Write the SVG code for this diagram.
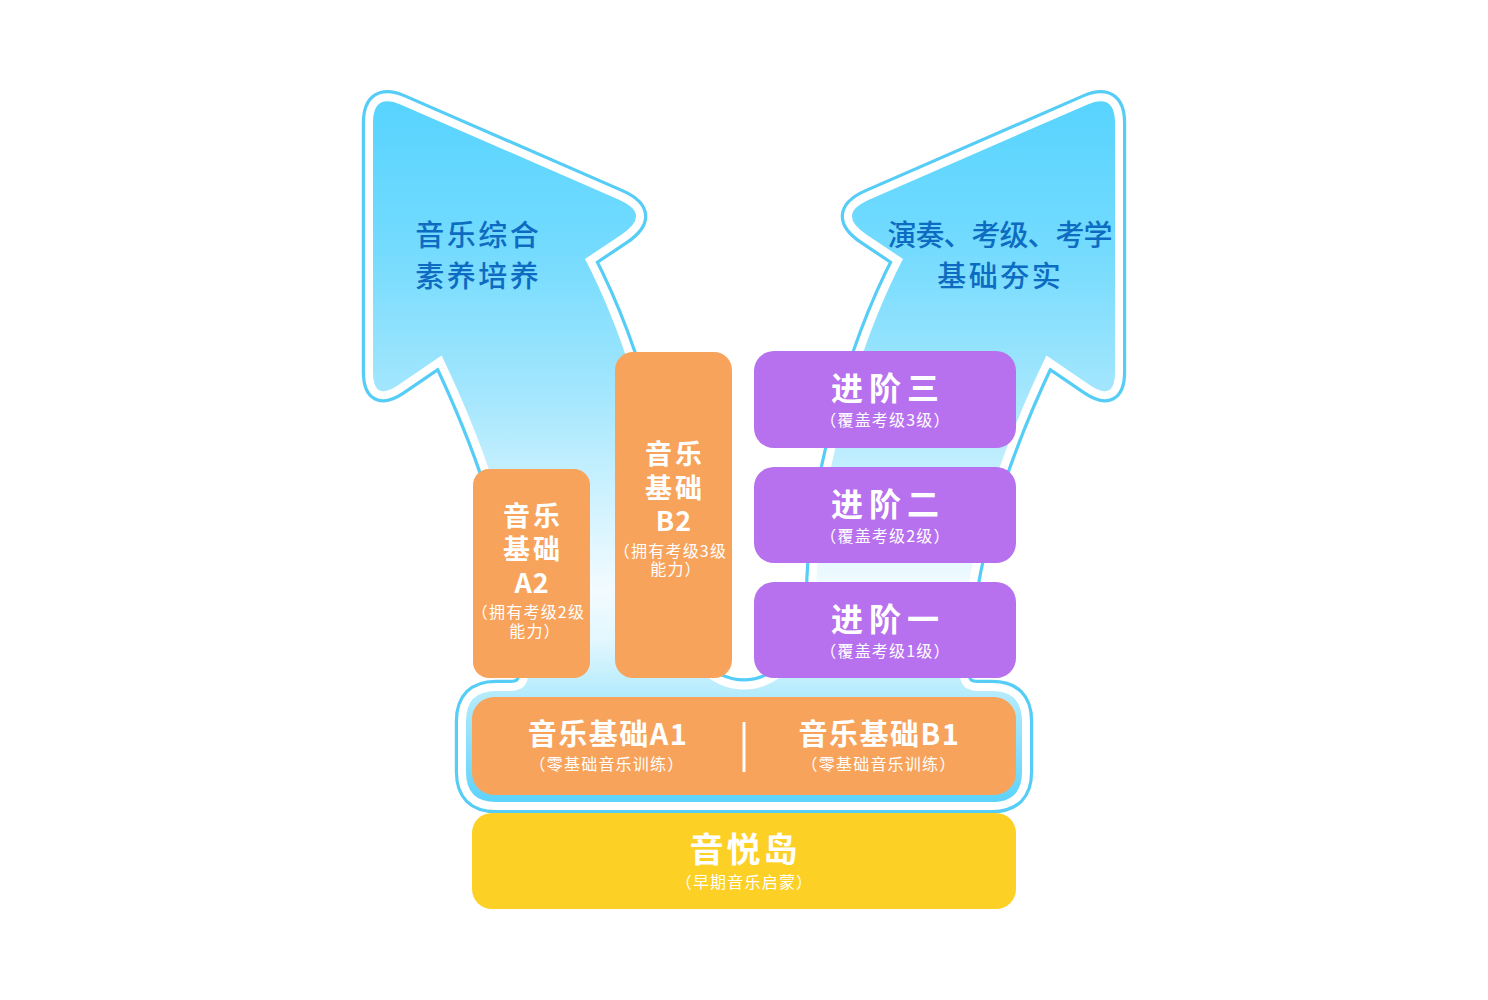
<svg xmlns="http://www.w3.org/2000/svg" width="1488" height="1000" viewBox="0 0 1488 1000">
<defs>
<linearGradient id="skyGrad" gradientUnits="userSpaceOnUse" x1="0" y1="90" x2="0" y2="805">
<stop offset="0" stop-color="#55d3fe"/>
<stop offset="0.224" stop-color="#74dbfe"/>
<stop offset="0.434" stop-color="#a6e7fd"/>
<stop offset="0.531" stop-color="#c3effe"/>
<stop offset="0.699" stop-color="#f2fbff"/>
<stop offset="0.769" stop-color="#e2f7fe"/>
<stop offset="0.853" stop-color="#b0eafc"/>
<stop offset="1" stop-color="#5ad2fb"/>
</linearGradient>
<path id="yshape" d="M 373 123 Q 373 92.5 401 104.7 L 618.5 199.4 Q 652 214 621.7 234.4 L 585 259 C 632 349 672 490 672 600 C 672 650 705 689.5 744 689.5 C 783 689.5 816 650 816 600 C 816 490 856 349 903 259 L 866.3 234.4 Q 836 214 869.5 199.4 L 1087 104.7 Q 1115 92.5 1115 123 L 1115 371.9 Q 1115 402 1090 385.2 L 1046.4 355.4 C 1018 415 962 540 960 672 Q 959 691 978 691 L 992 691 Q 1022 691 1022 721 L 1022 772 Q 1022 802 992 802 L 496 802 Q 466 802 466 772 L 466 721 Q 466 691 496 691 L 510 691 Q 529 691 528 672 C 526 540 470 415 441.6 355.4 L 398 385.2 Q 373 402 373 371.9 Z"/>
</defs>
<style>
.w{fill:#fff;font-family:"Noto Sans CJK SC","Noto Sans",sans-serif;text-anchor:middle}
.big{font-size:27px;font-weight:700;letter-spacing:3px}
.lat{letter-spacing:1px}
.sub{font-size:16px;font-weight:400;letter-spacing:1.2px;font-feature-settings:"halt"}
.pt{font-size:32px;font-weight:700;letter-spacing:6px}
.bt{font-size:29px;font-weight:700;letter-spacing:1.5px}
.yt{font-size:34px;font-weight:700;letter-spacing:3px}
.at{fill:#0d6cc1;font-family:"Noto Sans CJK SC","Noto Sans",sans-serif;text-anchor:middle;font-size:29px;font-weight:500;letter-spacing:2.5px}
.orange{fill:#f8a35b}
.purple{fill:#b771ee}
.yellow{fill:#fdd026}
</style>
<rect width="1488" height="1000" fill="#fff"/>
<g id="connectors">
<use href="#yshape" fill="none" stroke="#55cdf6" stroke-width="22.4" stroke-linejoin="round"/>
<use href="#yshape" fill="none" stroke="#ffffff" stroke-width="16" stroke-linejoin="round"/>
<use href="#yshape" fill="url(#skyGrad)"/>
</g>
<g id="label-left">
<text class="at"><tspan x="478.3" y="246">音乐综合</tspan><tspan x="478.3" y="287">素养培养</tspan></text>
</g>
<g id="label-right">
<text class="at"><tspan x="999.5" y="245.5" style="letter-spacing:-1px">演奏、考级、考学</tspan><tspan x="1000.3" y="286.5">基础夯实</tspan></text>
</g>
<g id="node-a2">
<rect class="orange" x="473" y="469" width="117" height="209" rx="16"/>
<text class="w"><tspan class="big" x="533" y="526">音乐</tspan><tspan class="big" x="533" y="559">基础</tspan><tspan class="big lat" x="532" y="593">A2</tspan><tspan class="sub" x="532.5" y="618">（拥有考级2级</tspan><tspan class="sub" x="531" y="637">能力）</tspan></text>
</g>
<g id="node-b2">
<rect class="orange" x="615" y="352" width="117" height="326" rx="18"/>
<text class="w"><tspan class="big" x="675" y="464">音乐</tspan><tspan class="big" x="675" y="498">基础</tspan><tspan class="big lat" x="674" y="531">B2</tspan><tspan class="sub" x="674.5" y="557">（拥有考级3级</tspan><tspan class="sub" x="672" y="575">能力）</tspan></text>
</g>
<g id="node-adv3">
<rect class="purple" x="754" y="351" width="262" height="97" rx="20"/>
<text class="w"><tspan class="pt" x="888" y="400">进阶三</tspan><tspan class="sub" x="885.5" y="426">（覆盖考级3级）</tspan></text>
</g>
<g id="node-adv2">
<rect class="purple" x="754" y="467" width="262" height="96" rx="20"/>
<text class="w"><tspan class="pt" x="888" y="516">进阶二</tspan><tspan class="sub" x="885.5" y="542">（覆盖考级2级）</tspan></text>
</g>
<g id="node-adv1">
<rect class="purple" x="754" y="582" width="262" height="96" rx="20"/>
<text class="w"><tspan class="pt" x="888" y="631">进阶一</tspan><tspan class="sub" x="885.5" y="657">（覆盖考级1级）</tspan></text>
</g>
<g id="node-a1-b1">
<rect class="orange" x="472" y="697" width="544" height="98" rx="22"/>
<text class="w"><tspan class="bt" x="608" y="745">音乐基础A1</tspan><tspan class="sub" x="607" y="770">（零基础音乐训练）</tspan></text>
<line x1="744" y1="722" x2="744" y2="772" stroke="#fff" stroke-width="3"/>
<text class="w"><tspan class="bt" x="879.5" y="745">音乐基础B1</tspan><tspan class="sub" x="879" y="770">（零基础音乐训练）</tspan></text>
</g>
<g id="node-yinyuedao">
<rect class="yellow" x="472" y="813" width="544" height="96" rx="20"/>
<text class="w"><tspan class="yt" x="745" y="861.5">音悦岛</tspan><tspan class="sub" x="744.5" y="888">（早期音乐启蒙）</tspan></text>
</g>
</svg>
